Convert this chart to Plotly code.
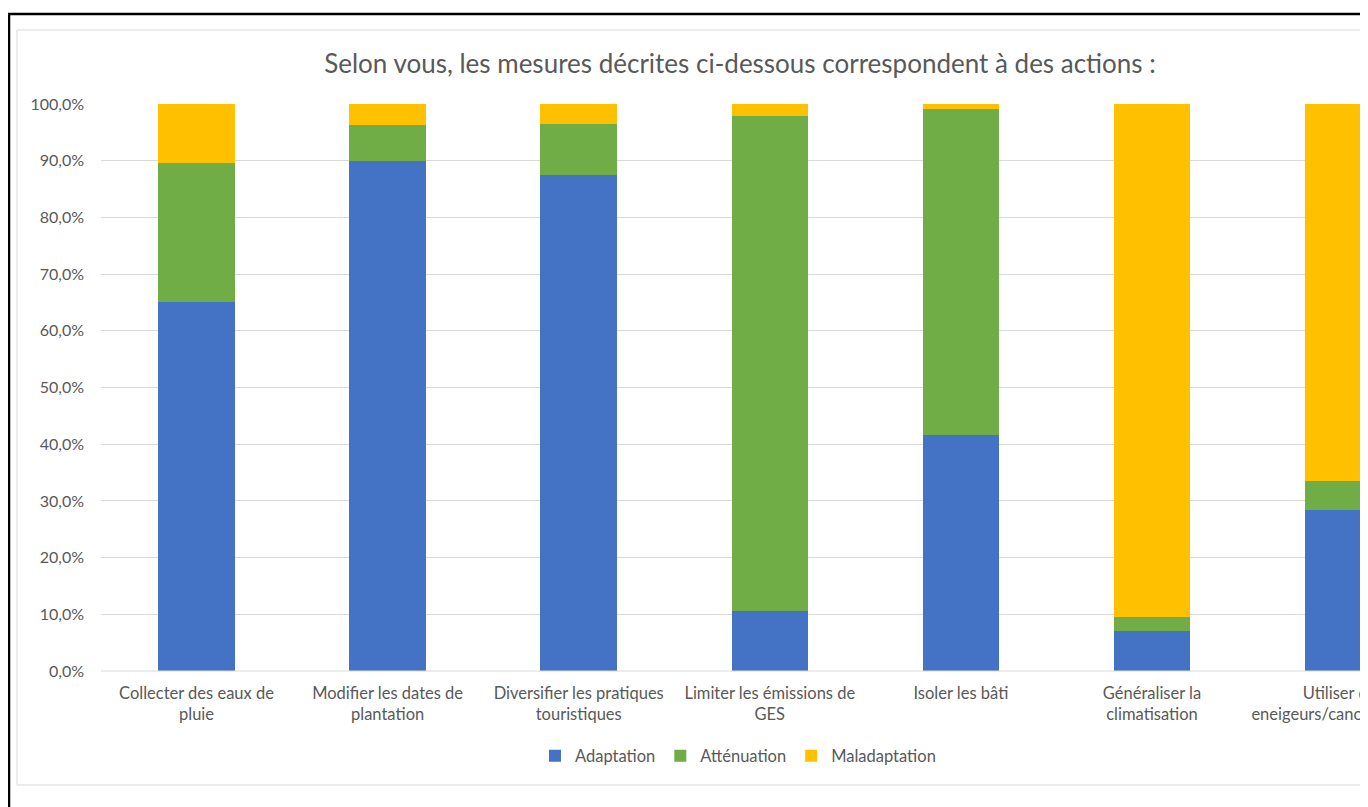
import plotly.graph_objects as go

categories = [
    "Collecter des eaux de<br>pluie",
    "Modifier les dates de<br>plantation",
    "Diversifier les pratiques<br>touristiques",
    "Limiter les émissions de<br>GES",
    "Isoler les bâti",
    "Généraliser la<br>climatisation",
    "Utiliser des<br>eneigeurs/canons à neige",
]
adaptation = [0.650, 0.900, 0.875, 0.106, 0.416, 0.071, 0.284]
attenuation = [0.246, 0.063, 0.090, 0.873, 0.575, 0.024, 0.051]
maladaptation = [0.104, 0.037, 0.035, 0.021, 0.009, 0.905, 0.665]
series_names = ["Adaptation", "Atténuation", "Maladaptation"]
series_colors = ["#4472C4", "#70AD47", "#FFC000"]
y_ticks = [i / 10 for i in range(11)]

OFF = 8  # default page body margin
W, H = 1368 - OFF, 807 - OFF
L, R, T = 101 - OFF, 0, 104 - OFF
B = H - (671 - OFF)
PW, PH = W - L - R, H - T - B
FONT = "Lato"
GREY = "#595959"


def px_x(p):
    return (p - OFF - L) / PW


def px_y(p):
    return (H - B - (p - OFF)) / PH


# category centre of the first bar and category spacing in the picture (window pixels)
C0, SP = 196.5, 191.1
x_lo = (101 - C0) / SP
x_hi = (1368 - C0) / SP

fig = go.Figure()
xs = list(range(len(categories)))
for name, vals, col in zip(series_names, [adaptation, attenuation, maladaptation], series_colors):
    fig.add_trace(go.Bar(x=xs, y=vals, name=name, marker=dict(color=col, line=dict(width=0)), width=0.4))

fig.update_layout(
    width=W, height=H,
    margin=dict(l=L, r=R, t=T, b=B, autoexpand=False),
    barmode="stack",
    separators=", ",
    paper_bgcolor="white", plot_bgcolor="white",
    font=dict(family=FONT, color=GREY, size=16),
    title=dict(
        text="Selon vous, les mesures décrites ci-dessous correspondent à des actions :",
        xref="container", x=(740 - OFF) / W, xanchor="center",
        yref="container", y=1 - (64 - OFF) / H, yanchor="middle",
        font=dict(family=FONT, size=26, color=GREY),
    ),
    xaxis=dict(
        range=[x_lo, x_hi], tickmode="array", tickvals=xs, ticktext=categories,
        showgrid=False, zeroline=False, showline=False, ticks="",
        tickfont=dict(size=16.5, color=GREY), ticklabelstandoff=10,
        ticklabeloverflow="allow",
    ),
    yaxis=dict(
        range=[0, 1], tickmode="array", tickvals=y_ticks, tickformat=".1%",
        showgrid=True, gridcolor="#D9D9D9", gridwidth=1, zeroline=False,
        showline=False, ticks="", tickfont=dict(size=16, color=GREY),
        ticklabelstandoff=16,
    ),
    legend=dict(
        orientation="h", xref="container", x=(738 - OFF) / W, xanchor="center",
        yref="container", y=1 - (756 - OFF) / H, yanchor="middle",
        font=dict(size=16.5, color=GREY), itemwidth=30, traceorder="normal",
    ),
    shapes=[
        dict(type="rect", xref="paper", yref="paper", x0=px_x(17), x1=px_x(1420),
             y0=px_y(785), y1=px_y(30), line=dict(color="#D9D9D9", width=1), layer="below"),
        dict(type="line", xref="paper", yref="paper", x0=px_x(9), x1=px_x(9),
             y0=px_y(14), y1=px_y(830), line=dict(color="black", width=2.5)),
        dict(type="line", xref="paper", yref="paper", x0=px_x(8), x1=px_x(1420),
             y0=px_y(14), y1=px_y(14), line=dict(color="black", width=2.5)),
        dict(type="line", xref="paper", yref="paper", x0=0, x1=1,
             y0=0, y1=0, line=dict(color="#D9D9D9", width=1)),
    ],
)

fig.write_html("out.html")
